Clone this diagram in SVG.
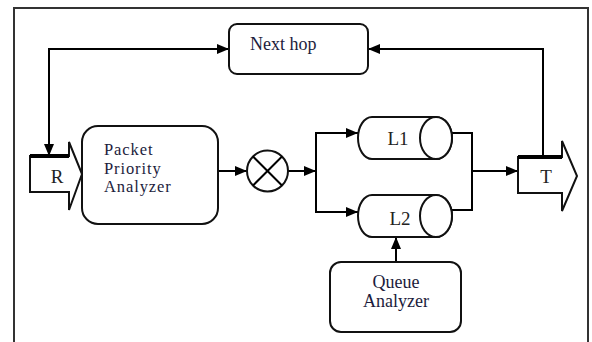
<svg xmlns="http://www.w3.org/2000/svg" width="592" height="342" viewBox="0 0 592 342">
<style>
.frame{fill:none;stroke:#333;stroke-width:2}
.box{fill:#fff;stroke:#111;stroke-width:2}
.ln{fill:none;stroke:#000;stroke-width:2}
.lbl{font-family:"Liberation Serif","Times New Roman",serif;font-size:18px;fill:#1c1c3c}
.ppa{font-size:16.5px;letter-spacing:0.9px}
.big{font-family:"Liberation Serif","Times New Roman",serif;font-size:19px;fill:#222}
</style>
<defs>
<marker id="ah" viewBox="0 0 12 10" refX="12" refY="5" markerWidth="12" markerHeight="10" markerUnits="userSpaceOnUse" orient="auto-start-reverse">
<path d="M0,0 L12,5 L0,10 z" fill="#000"/>
</marker>
</defs>
<rect width="592" height="342" fill="#fff"/>
<path class="frame" d="M14,342 L14,8 L588,8 L588,342"/>

<g id="connectors">
<path class="ln" d="M49,156 L49,49 L229,49" marker-start="url(#ah)" marker-end="url(#ah)"/>
<path class="ln" d="M543,157 L543,49 L368,49" marker-end="url(#ah)"/>
<path class="ln" d="M218,171 L247,171" marker-end="url(#ah)"/>
<path class="ln" d="M288,171 L316,171" marker-end="url(#ah)"/>
<path class="ln" d="M316,171 L316,133 L358,133" marker-end="url(#ah)"/>
<path class="ln" d="M316,171 L316,212 L358,212" marker-end="url(#ah)"/>
<path class="ln" d="M452,133 L472,133 L472,210 L452,210"/>
<path class="ln" d="M472,171 L518,171" marker-end="url(#ah)"/>
<path class="ln" d="M396,262 L396,237" marker-end="url(#ah)"/>
</g>

<g id="R">
<path class="box" d="M30,156 L69,156 L69,142 L82,174 L69,210 L69,192 L30,192 Z"/>
<path d="M30,156 L69,156" stroke="#000" stroke-width="4"/>
<text class="big" x="57" y="183" text-anchor="middle" font-size="18">R</text>
</g>

<g id="next-hop">
<rect class="box" x="229" y="24" width="139" height="50" rx="8"/>
<text class="lbl" x="250" y="50">Next hop</text>
</g>

<g id="packet-priority-analyzer">
<rect class="box" x="82" y="126" width="136" height="98" rx="16"/>
<text class="lbl ppa" x="104" y="155">Packet</text>
<text class="lbl ppa" x="104" y="173.5">Priority</text>
<text class="lbl ppa" x="104" y="192">Analyzer</text>
</g>

<g id="mixer">
<circle class="box" cx="267.5" cy="171" r="20.5"/>
<path class="ln" d="M253,156.5 L282,185.5 M282,156.5 L253,185.5"/>
</g>

<g id="L1">
<path d="M372,158.5 L440,158.5" stroke="#888" stroke-width="3"/>
<path class="box" d="M372,117 L436,117 A16,21 0 0 1 436,159 L372,159 A14,21 0 0 1 372,117 Z"/>
<ellipse class="box" cx="436" cy="138" rx="16" ry="21"/>
<text class="big" x="398" y="145" text-anchor="middle">L1</text>
</g>

<g id="L2">
<path class="box" d="M372,195 L436,195 A16,21 0 0 1 436,237 L372,237 A14,21 0 0 1 372,195 Z"/>
<ellipse class="box" cx="436" cy="216" rx="16" ry="21"/>
<text class="big" x="400" y="225" text-anchor="middle">L2</text>
</g>

<g id="T">
<path class="box" d="M518,157 L562,157 L562,141 L577,176 L562,211 L562,193 L518,193 Z"/>
<path d="M518,157 L562,157" stroke="#000" stroke-width="4"/>
<text class="big" x="546" y="183" text-anchor="middle" font-size="18">T</text>
</g>

<g id="queue-analyzer">
<rect class="box" x="330" y="262" width="131" height="70" rx="11"/>
<text class="lbl" x="396" y="288" text-anchor="middle" font-size="17.5">Queue</text>
<text class="lbl" x="396" y="307" text-anchor="middle" font-size="17.5">Analyzer</text>
</g>
</svg>
